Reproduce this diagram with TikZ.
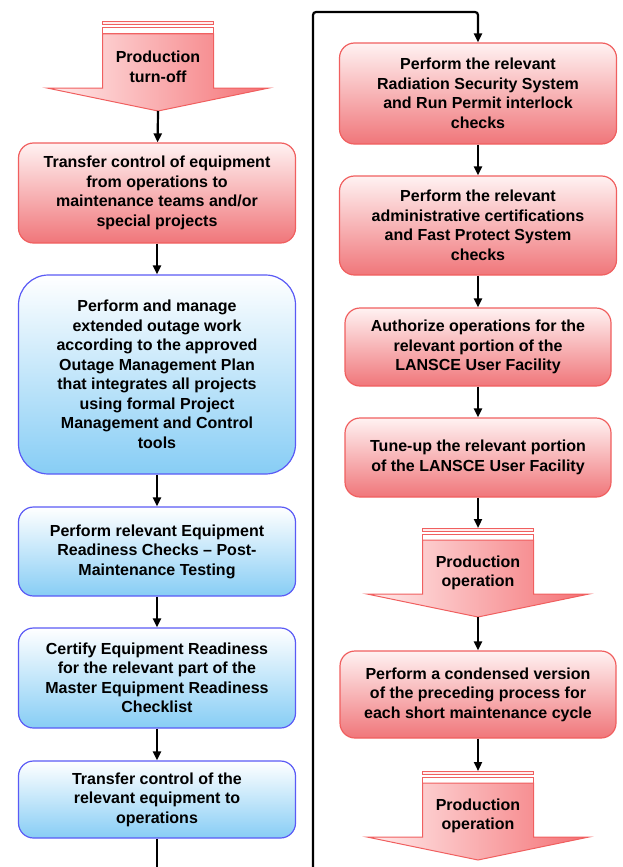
\documentclass[tikz,border=0pt]{standalone}
\usepackage{fontspec}
\setmainfont{Liberation Sans}
\usetikzlibrary{arrows.meta}

\definecolor{redline}{RGB}{240,95,95}
\definecolor{redtop}{RGB}{255,242,242}
\definecolor{redbot}{RGB}{240,118,122}
\definecolor{blueline}{RGB}{90,90,245}
\definecolor{bluetop}{RGB}{255,255,255}
\definecolor{bluebot}{RGB}{135,205,245}
\definecolor{arrowlight}{RGB}{255,236,236}
\definecolor{arrowdark}{RGB}{244,112,116}

\tikzset{
    box/.style={draw, rounded corners=15pt, line width=1.2pt, inner sep=0pt,
        minimum width=277pt, align=center,
        font=\bfseries\fontsize{16}{19.5}\selectfont},
    redbox/.style={box, draw=redline, top color=redtop, bottom color=redbot},
    bluebox/.style={box, draw=blueline, top color=bluetop, bottom color=bluebot},
    arrowtext/.style={inner sep=0pt, align=center,
        font=\bfseries\fontsize{16}{19.5}\selectfont},
    flow/.style={line width=2.2pt, -{Triangle[width=8pt,length=9pt]}},
}

\begin{document}
\begin{tikzpicture}[x=1pt, y=-1pt]
    \useasboundingbox (0,0) rectangle (623,867);

    % Define a block arrow with its text.
    % #1 ... name of the text node (also gives #1-top and #1-tip)
    % #2 ... centre of the text
    % #3 ... the text
    \def\prodarrow#1#2#3{
        \begin{scope}[shift={(#2)}]
            % two stripes on top
            \draw[redline, fill=arrowlight, line width=1pt] (-55.5,-45) rectangle (55.5,-42);
            \draw[redline, fill=white, line width=1pt] (-55.5,-39) rectangle (55.5,-33);
            % body and head
            \draw[redline, line width=1pt, left color=arrowlight, right color=arrowdark]
                (-55.5,-33) -- (55.5,-33) -- (55.5,21) -- (111,21) -- (0,44)
                -- (-111,21) -- (-55.5,21) -- cycle;
            \coordinate (#1-top) at (0,-45);
            \coordinate (#1-tip) at (0,44);
        \end{scope}
        \node[arrowtext] (#1) at (#2) {#3};
    }

    % Left column
    \prodarrow{turnoff}{158,67}{Production\\turn-off}

    \node[redbox, minimum height=100pt] (handover) at (157,193)
        {Transfer control of equipment\\from operations to\\maintenance teams and/or\\special projects};
    \node[bluebox, rounded corners=30pt, minimum height=199pt] (outage) at (157,374.5)
        {Perform and manage\\extended outage work\\according to the approved\\Outage Management Plan\\that integrates all projects\\using formal Project\\Management and Control\\tools};
    \node[bluebox, minimum height=89pt] (checks) at (157,551.5)
        {Perform relevant Equipment\\Readiness Checks -- Post-\\Maintenance Testing};
    \node[bluebox, minimum height=100pt] (certify) at (157,678)
        {Certify Equipment Readiness\\for the relevant part of the\\Master Equipment Readiness\\Checklist};
    \node[bluebox, minimum height=77pt] (handback) at (157,799.5)
        {Transfer control of the\\relevant equipment to\\operations};

    % Right column
    \node[redbox, minimum height=101pt] (rss) at (478,93.5)
        {Perform the relevant\\Radiation Security System\\and Run Permit interlock\\checks};
    \node[redbox, minimum height=99pt] (fps) at (478,225.5)
        {Perform the relevant\\administrative certifications\\and Fast Protect System\\checks};
    \node[redbox, minimum width=266pt, minimum height=78pt] (authorize) at (478,347)
        {Authorize operations for the\\relevant portion of the\\LANSCE User Facility};
    \node[redbox, minimum width=266pt, minimum height=79pt] (tuneup) at (478,457.5)
        {Tune-up the relevant portion\\of the LANSCE User Facility};

    \prodarrow{prodone}{478,573}{Production\\operation}

    \node[redbox, minimum width=276pt, minimum height=87pt] (condensed) at (478,694.5)
        {Perform a condensed version\\of the preceding process for\\each short maintenance cycle};

    \prodarrow{prodtwo}{478,816}{Production\\operation}

    % Page ends of the long connector
    \coordinate (leftend) at (157,867);
    \coordinate (rightstart) at (313,867);
    \coordinate (turn) at (313,12);

    % Draw the connectors
    \draw[flow] (turnoff-tip) -- (handover);
    \draw[flow] (handover) -- (outage);
    \draw[flow] (outage) -- (checks);
    \draw[flow] (checks) -- (certify);
    \draw[flow] (certify) -- (handback);
    \draw[line width=2.2pt] (handback) -- (leftend);

    \draw[flow, rounded corners=3pt] (rightstart) -- (turn) -| (rss);
    \draw[flow] (rss) -- (fps);
    \draw[flow] (fps) -- (authorize);
    \draw[flow] (authorize) -- (tuneup);
    \draw[flow] (tuneup) -- (prodone-top);
    \draw[flow] (prodone-tip) -- (condensed);
    \draw[flow] (condensed) -- (prodtwo-top);
\end{tikzpicture}
\end{document}
